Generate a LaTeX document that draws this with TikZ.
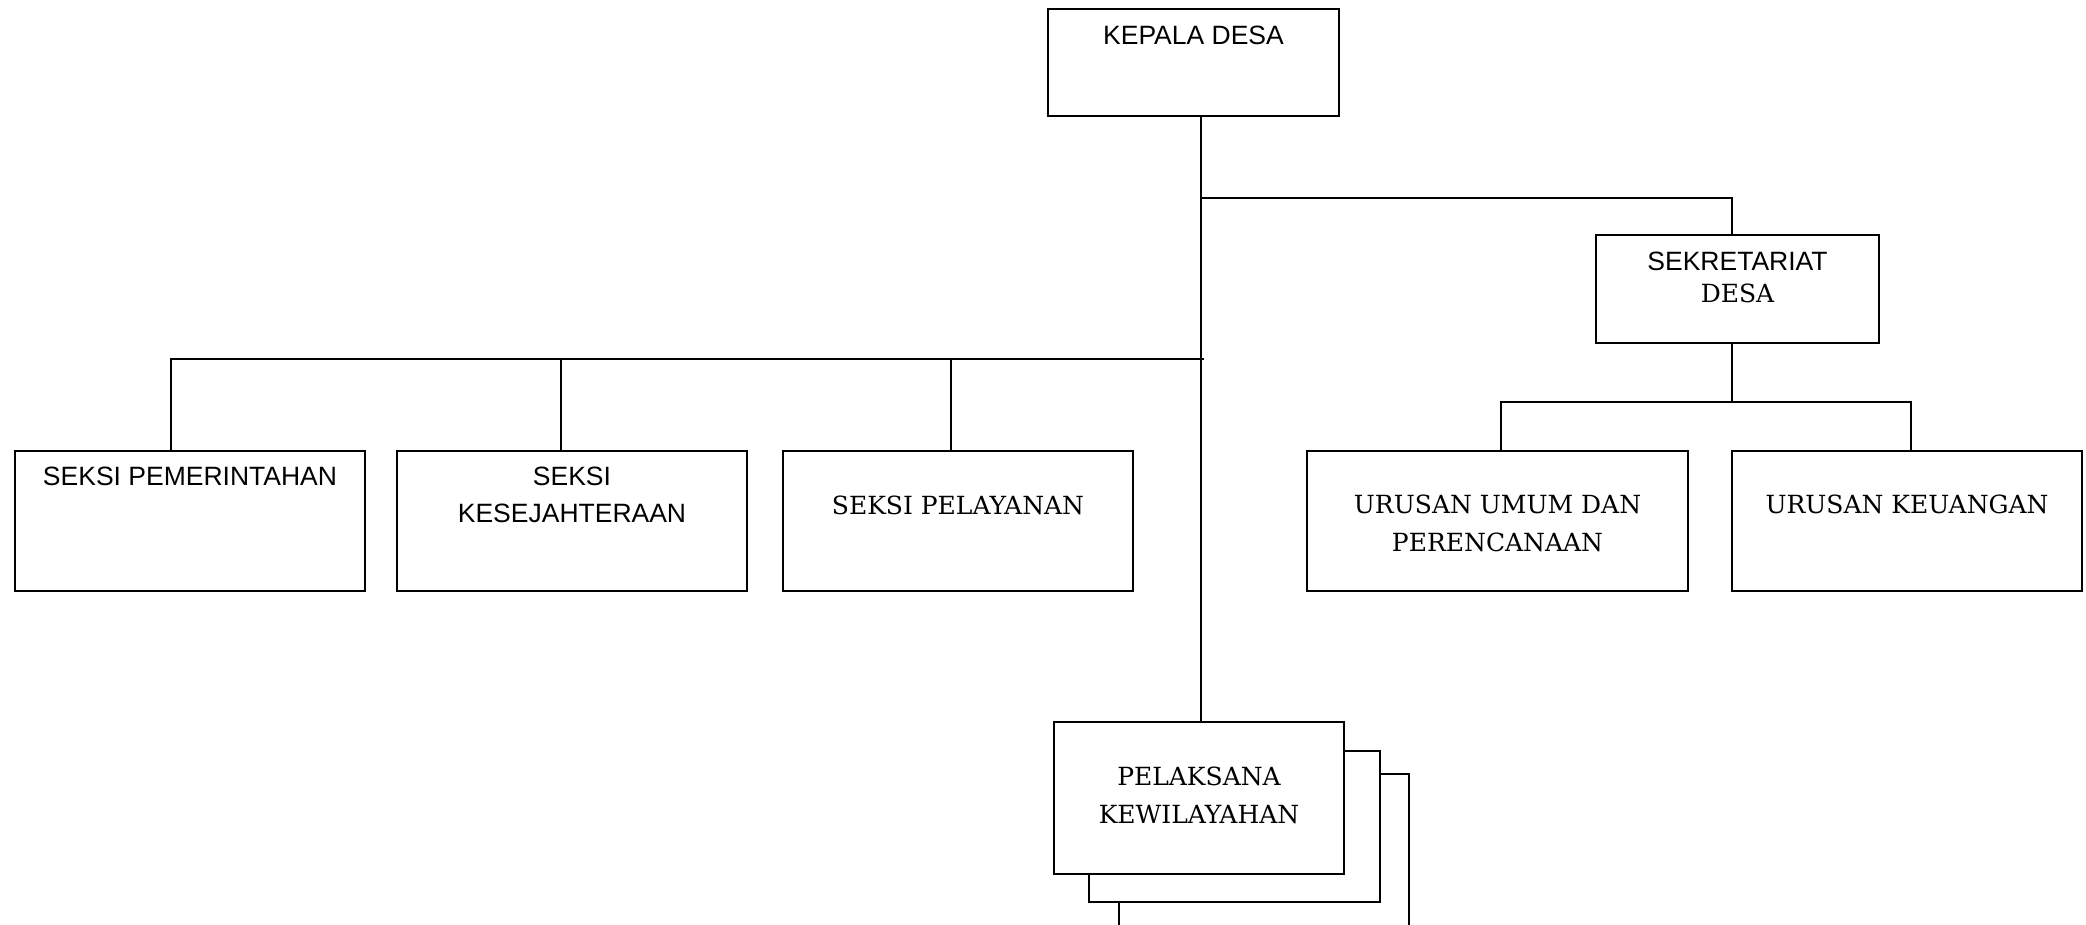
\documentclass[tikz,border=0pt]{standalone}
\usepackage{fontspec}
\setmainfont{DejaVu Serif}
\newfontfamily\sansf{Liberation Sans}
\newfontfamily\seriff{DejaVu Serif}
\begin{document}
\begin{tikzpicture}[x=1pt,y=-1pt,line width=2pt,
  box/.style={draw, fill=white, rectangle, anchor=north west, inner sep=0pt, outer sep=0pt},
  stxt/.style={anchor=north, inner sep=0pt, align=center, font=\sansf\fontsize{26.5}{37}\selectfont},
  rtxt/.style={anchor=north, inner sep=0pt, align=center, font=\seriff\fontsize{25}{37.5}\selectfont},
  conn/.style={draw, line width=2pt, line join=miter}]
\useasboundingbox (0,0) rectangle (2086,924);
\clip (0,0) rectangle (2086,924);

% boxes
\node[box, minimum width=291pt, minimum height=107pt] (kd)   at (1048,9) {};
\node[box, minimum width=283pt, minimum height=108pt] (sek)  at (1596,235) {};
\node[box, minimum width=350pt, minimum height=140pt] (pem)  at (15,451) {};
\node[box, minimum width=350pt, minimum height=140pt] (kes)  at (397,451) {};
\node[box, minimum width=350pt, minimum height=140pt] (pel)  at (783,451) {};
\node[box, minimum width=381pt, minimum height=140pt] (umum) at (1307,451) {};
\node[box, minimum width=350pt, minimum height=140pt] (keu)  at (1732,451) {};
\node[box, minimum width=290pt, minimum height=152pt] (pk3)  at (1119,774) {};
\node[box, minimum width=291pt, minimum height=151pt] (pk2)  at (1089,751) {};
\node[box, minimum width=290pt, minimum height=152pt] (pk1)  at (1054,722) {};

% texts
\node[stxt] (kdt) at (1193.5,25) {KEPALA DESA};
\node[stxt, font=\sansf\fontsize{26.5}{31.6}\selectfont] (sekt) at (1737.5,251)
  {SEKRETARIAT\\{\seriff\fontsize{25}{31.6}\selectfont DESA}};
\node[stxt] (pemt) at (190,466) {SEKSI PEMERINTAHAN};
\node[stxt] (kest) at (572,466) {SEKSI\\KESEJAHTERAAN};
\node[rtxt] (pelt) at (958,495) {SEKSI PELAYANAN};
\node[rtxt] (umumt) at (1497.5,494) {URUSAN UMUM DAN\\PERENCANAAN};
\node[rtxt] (keut) at (1907,494) {URUSAN KEUANGAN};
\node[rtxt] (pkt) at (1199,766) {PELAKSANA\\KEWILAYAHAN};

% connector coordinates
\coordinate (trunk) at (1201,0);
\coordinate (jsek) at (1201,198);
\coordinate (sekx) at (1732,0);
\coordinate (jleft) at (1204,359);
\coordinate (s1) at (171,359);
\coordinate (s2) at (561,359);
\coordinate (s3) at (951,359);
\coordinate (ra) at (1501,402);
\coordinate (rb) at (1911,402);
\coordinate (rm) at (1732,402);

% connectors
\draw[conn] (kd.south -| trunk) -- (pk1.north -| trunk);
\draw[conn] (jsek) -| (sek.north -| sekx);
\draw[conn] (pem.north -| s1) -- (s1) -- (jleft);
\draw[conn] (s2) -- (kes.north -| s2);
\draw[conn] (s3) -- (pel.north -| s3);
\draw[conn] (sek.south -| sekx) -- (rm);
\draw[conn] (umum.north -| ra) -- (ra) -- (rb) -- (keu.north -| rb);
\end{tikzpicture}
\end{document}
